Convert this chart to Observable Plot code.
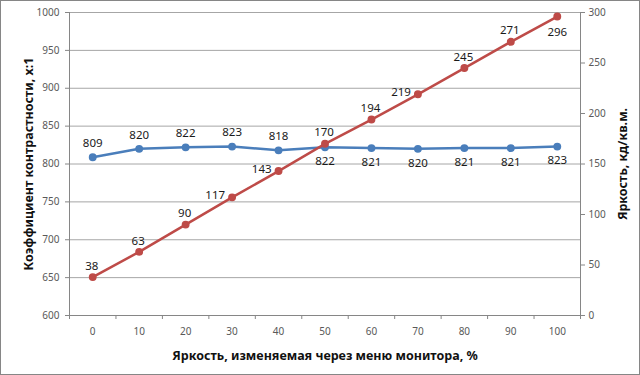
<!DOCTYPE html>
<html><head><meta charset="utf-8">
<script src="https://cdn.jsdelivr.net/npm/d3@7"></script>
<script src="https://cdn.jsdelivr.net/npm/@observablehq/plot@0.6"></script>
<style>body{margin:0;background:#fff}#chart svg{display:block}</style>
</head><body><div id="chart"></div>
<script>
const levels = [0, 10, 20, 30, 40, 50, 60, 70, 80, 90, 100];
const contrast = [809, 820, 822, 823, 818, 822, 821, 820, 821, 821, 823];
const luminance = [38, 63, 90, 117, 143, 170, 194, 219, 245, 271, 296];
const leftTicks = [600, 650, 700, 750, 800, 850, 900, 950, 1000];
const rightTicks = [0, 50, 100, 150, 200, 250, 300];
const xTitle = "Яркость, изменяемая через меню монитора, %";
const leftTitle = "Коэффициент контрастности, x:1";
const rightTitle = "Яркость, кд/кв.м.";

const L0 = leftTicks[0], L1 = leftTicks[leftTicks.length - 1];
const R0 = rightTicks[0], R1 = rightTicks[rightTicks.length - 1];
const toLeft = v => L0 + (v - R0) * (L1 - L0) / (R1 - R0);
const fromLeft = v => R0 + (v - L0) * (R1 - R0) / (L1 - L0);

const blue = "#4a7ebb", red = "#be4b48";
const gridColor = "#a6a6a6", axisColor = "#868686", tickText = "#595959";

const cData = levels.map((x, i) => ({x, v: contrast[i], y: contrast[i]}));
const lData = levels.map((x, i) => ({x, v: luminance[i], y: toLeft(luminance[i])}));
const step = levels[1] - levels[0];
const boundaries = d3.range(levels[0] - step / 2, levels[levels.length - 1] + step, step);

// label placement (style logic, not data)
const cAbove = cData.filter(d => d.x < 50), cBelow = cData.filter(d => d.x >= 50);
const leftSet = new Set([30, 40, 70]);
const lLeft = lData.filter(d => leftSet.has(d.x));
const lBelow = lData.filter(d => d.x === 100);
const lAbove = lData.filter(d => !leftSet.has(d.x) && d.x !== 100);

const font = "'Noto Sans', 'DejaVu Sans', sans-serif";
const lblStyle = {fill: "#1a1a1a", fontSize: 11.5, text: d => String(d.v)};

const chart = Plot.plot({
  width: 640, height: 375,
  marginLeft: 69, marginRight: 60, marginTop: 12, marginBottom: 60,
  style: {fontFamily: font, fontSize: "10px", background: "#fff"},
  x: {domain: [levels[0] - step / 2, levels[levels.length - 1] + step / 2]},
  y: {domain: [L0, L1]},
  marks: [
    Plot.ruleY(leftTicks.slice(1), {stroke: gridColor, strokeWidth: 1}),
    Plot.ruleY([L0], {stroke: axisColor}),
    Plot.ruleX([boundaries[0], boundaries[boundaries.length - 1]], {stroke: axisColor}),
    Plot.axisY(leftTicks, {anchor: "left", tickSize: 4, tickPadding: 6, stroke: axisColor, fill: tickText,
      tickFormat: d => String(d),
      label: leftTitle, labelAnchor: "center", labelOffset: 45, labelArrow: "none"}),
    Plot.axisY(rightTicks.map(toLeft), {anchor: "right", tickSize: 4, tickPadding: 4, stroke: axisColor, fill: tickText,
      tickFormat: d => String(Math.round(fromLeft(d))),
      label: rightTitle, labelAnchor: "center", labelOffset: 46, labelArrow: "none"}),
    Plot.axisX(boundaries, {anchor: "bottom", tickSize: 4, tickFormat: () => "", stroke: axisColor, label: null}),
    Plot.axisX(levels, {anchor: "bottom", tickSize: 0, tickPadding: 12, fill: tickText,
      label: xTitle, labelAnchor: "center", labelOffset: 44, labelArrow: "none"}),
    Plot.line(cData, {x: "x", y: "y", stroke: blue, strokeWidth: 2.5}),
    Plot.dot(cData, {x: "x", y: "y", r: 3.2, fill: blue, stroke: blue}),
    Plot.line(lData, {x: "x", y: "y", stroke: red, strokeWidth: 2.5}),
    Plot.dot(lData, {x: "x", y: "y", r: 3.2, fill: red, stroke: red}),
    Plot.text(cAbove, {x: "x", y: "y", dy: -14, ...lblStyle}),
    Plot.text(cBelow, {x: "x", y: "y", dy: 14, ...lblStyle}),
    Plot.text(lAbove, {x: "x", y: "y", dy: -11, dx: -1, ...lblStyle}),
    Plot.text(lLeft, {x: "x", y: "y", dy: -2, dx: -7, textAnchor: "end", ...lblStyle}),
    Plot.text(lBelow, {x: "x", y: "y", dy: 16, ...lblStyle})
  ]
});

const svg = d3.select(chart);
svg.selectAll("[aria-label='y-axis label'] text, [aria-label='x-axis label'] text")
  .attr("font-weight", "bold").attr("font-size", "12.5px").attr("fill", "#111");
svg.append("rect").attr("x", 0.5).attr("y", 0.5).attr("width", 639).attr("height", 374)
  .attr("fill", "none").attr("stroke", "#868686");
document.getElementById("chart").appendChild(chart);
</script>
</body></html>
